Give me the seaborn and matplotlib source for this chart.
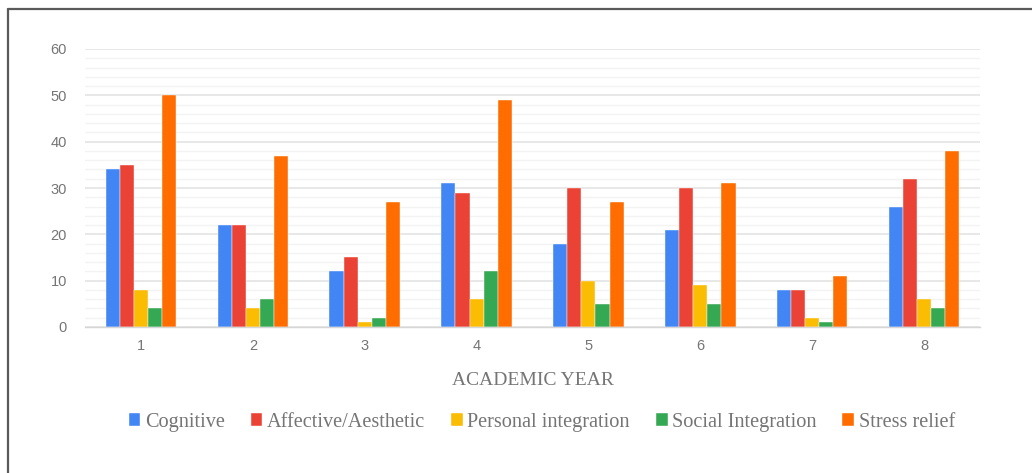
import matplotlib
matplotlib.use("Agg")
import matplotlib.pyplot as plt
from matplotlib.lines import Line2D
from matplotlib.ticker import MultipleLocator
import pandas as pd
import seaborn as sns

years = ["1", "2", "3", "4", "5", "6", "7", "8"]
series = ["Cognitive", "Affective/Aesthetic", "Personal integration",
          "Social Integration", "Stress relief"]
cognitive = [34, 22, 12, 31, 18, 21, 8, 26]
affective = [35, 22, 15, 29, 30, 30, 8, 32]
personal = [8, 4, 1, 6, 10, 9, 2, 6]
social = [4, 6, 2, 12, 5, 5, 1, 4]
stress = [50, 37, 27, 49, 27, 31, 11, 38]
colors = ["#4285F4", "#EA4335", "#FBBC04", "#34A853", "#FF6D01"]

values = [cognitive, affective, personal, social, stress]
rows = []
for name, vals in zip(series, values):
    for yr, v in zip(years, vals):
        rows.append({"year": yr, "series": name, "value": v})
df = pd.DataFrame(rows)

sns.set_theme(style="white")
plt.rcParams["font.family"] = ["Liberation Sans", "DejaVu Sans"]

fig = plt.figure(figsize=(10.32, 4.73), dpi=100)
ax = fig.add_axes([85 / 1032, 1 - 327 / 473, 895 / 1032, 278 / 473])

sns.barplot(data=df, x="year", y="value", hue="series", order=years,
            hue_order=series, palette=colors, width=0.63, gap=0.0,
            edgecolor="white", linewidth=0.3, saturation=1, ax=ax)

ax.set_xlim(-0.5, 7.5)
ax.set_ylim(0, 60)
ax.yaxis.set_major_locator(MultipleLocator(10))
ax.yaxis.set_minor_locator(MultipleLocator(2))
ax.grid(axis="y", which="major", color="#e2e2e2", linewidth=1.1, zorder=0)
ax.grid(axis="y", which="minor", color="#f3f3f3", linewidth=1.0, zorder=0)
ax.set_axisbelow(True)
for s in ["top", "right", "left"]:
    ax.spines[s].set_visible(False)
ax.spines["bottom"].set_color("#d6d6d6")
ax.spines["bottom"].set_linewidth(1.0)

ax.tick_params(axis="both", which="both", length=0, labelsize=10.5,
               labelcolor="#757575")
ax.tick_params(axis="y", pad=13)
ax.tick_params(axis="x", pad=9)
ax.set_ylabel("")
ax.set_xlabel("ACADEMIC YEAR", family="Liberation Serif", fontsize=14,
              color="#757575", labelpad=13)

handles, labels = ax.get_legend_handles_labels()
ax.get_legend().remove()
fig.legend(handles, labels, loc="center", bbox_to_anchor=(0.525, 1 - 422 / 473),
           ncol=5, frameon=False, prop={"family": "Liberation Serif", "size": 14.6},
           labelcolor="#757575", handlelength=0.58, handleheight=0.58,
           handletextpad=0.22, columnspacing=1.28, borderpad=0)

# frame lines along the left and top edges
fig.add_artist(Line2D([8 / 1032, 8 / 1032], [0, 1 - 9 / 473],
                      transform=fig.transFigure, color="#5a5a5a", linewidth=1.6))
fig.add_artist(Line2D([8 / 1032, 1], [1 - 9 / 473, 1 - 9 / 473],
                      transform=fig.transFigure, color="#5a5a5a", linewidth=1.6))

fig.savefig("out.png", dpi=100, facecolor="white")
